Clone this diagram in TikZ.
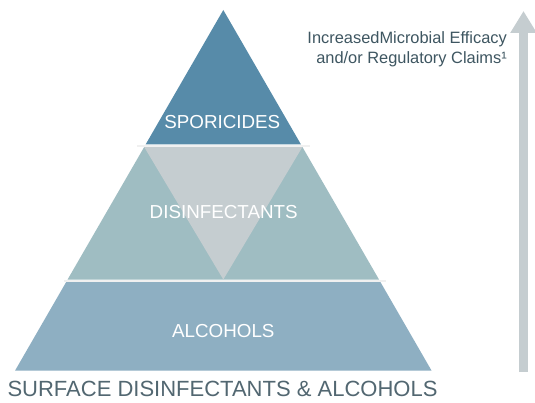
\documentclass[tikz,border=0pt]{standalone}
\usepackage{fontspec}
\setmainfont{Liberation Sans}
\usetikzlibrary{arrows.meta,positioning}
\definecolor{sporblue}{RGB}{87,139,169}
\definecolor{disteal}{RGB}{159,189,194}
\definecolor{disgrey}{RGB}{197,205,208}
\definecolor{alcblue}{RGB}{142,175,194}
\definecolor{arrowgrey}{RGB}{197,205,208}
\definecolor{slatetext}{RGB}{62,86,97}
\definecolor{slatelabel}{RGB}{82,103,113}

\begin{document}
\begin{tikzpicture}[x=1pt,y=1pt]
  \tikzstyle{tierlabel}=[anchor=base,inner sep=0pt,text=white,font=\fontsize{18.8}{22}\selectfont]
  \tikzstyle{gapline}=[draw=black!6,line width=2.2pt]
  \useasboundingbox[fill=white] (0,0) rectangle (535,402);
  % Top tier
  \fill[sporblue] (223.3,392) -- (301.0,257.5) -- (145.6,257.5) -- cycle;
  % Middle tier with the inverted triangle
  \fill[disteal] (144.2,255) -- (302.4,255) -- (379.0,122.5) -- (67.6,122.5) -- cycle;
  \fill[disgrey] (144.2,255) -- (302.4,255) -- (223.3,122.5) -- cycle;
  % Bottom tier
  \fill[alcblue] (66.2,120) -- (380.4,120) -- (431.6,31.3) -- (15,31.3) -- cycle;
  % Separators between the tiers
  \draw[gapline] (137,256.2) -- (310,256.2);
  \draw[gapline] (64,121.2) -- (386,121.2);
  % Tier names
  \node[tierlabel] (spor) at (222.3,273.7) {SPORICIDES};
  \node[tierlabel] (disinf) at (223.7,183.7) {DISINFECTANTS};
  \node[tierlabel] (alc) at (223.3,64.7) {ALCOHOLS};
  % Caption under the pyramid
  \node[anchor=base,inner sep=0pt,text=slatelabel,font=\fontsize{22}{26}\selectfont] (caption) at (222.5,6) {SURFACE DISINFECTANTS \& ALCOHOLS};
  % Rising arrow on the right
  \coordinate (arrowbot) at (523.5,30);
  \coordinate (arrowtop) at (523.5,391);
  \draw[-{Triangle[length=22pt,width=25pt]},arrowgrey,line width=9pt] (arrowbot) -- (arrowtop);
  \node[anchor=base east,inner sep=0pt,align=right,text=slatetext,font=\fontsize{16.4}{20}\selectfont] (claims) at (507,338) {IncreasedMicrobial Efficacy\\and/or Regulatory Claims¹};
\end{tikzpicture}
\end{document}
